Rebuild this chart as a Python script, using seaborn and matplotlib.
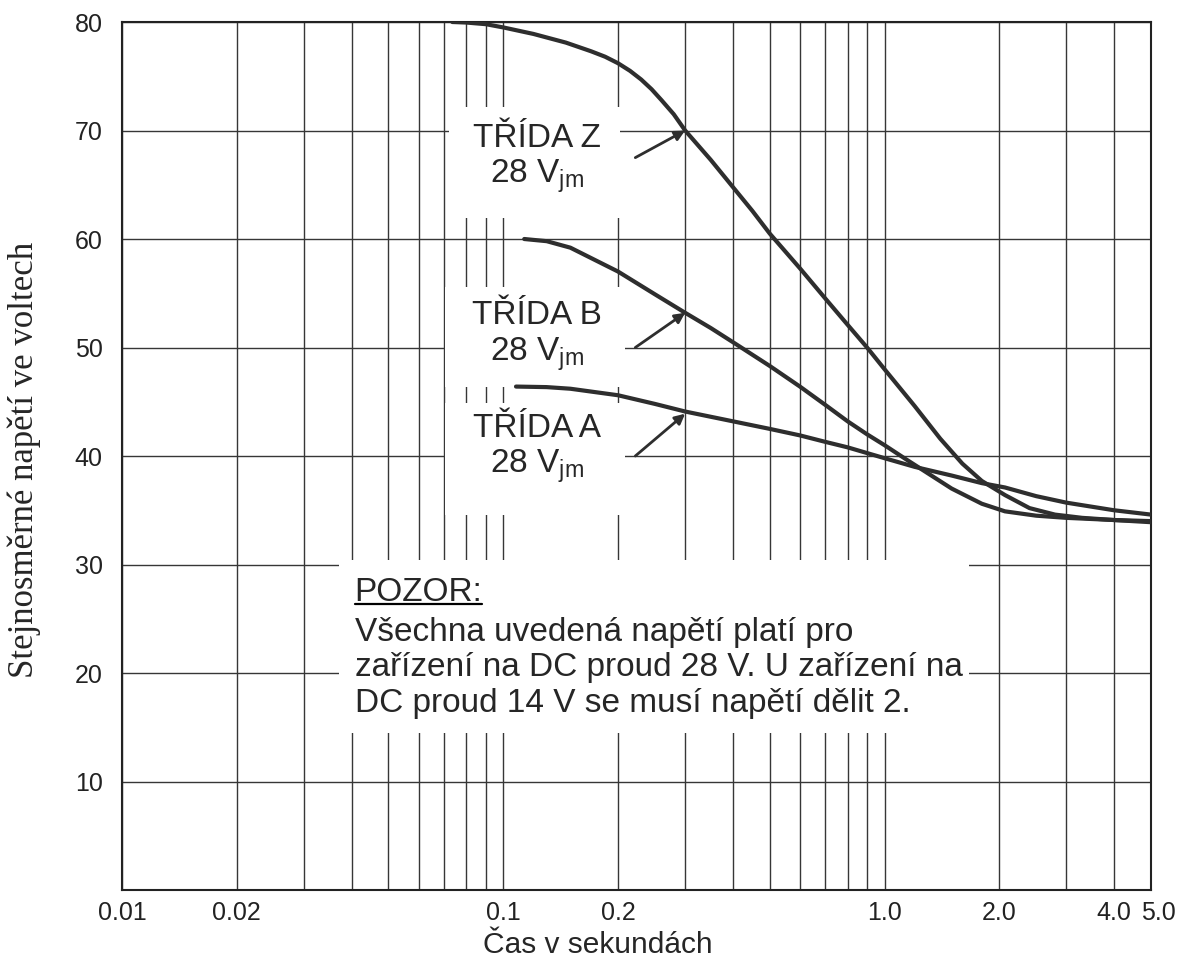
import matplotlib
matplotlib.use('Agg')
import matplotlib.pyplot as plt
import matplotlib.transforms as mtransforms
from matplotlib.patches import Rectangle
from matplotlib.ticker import FixedLocator, FixedFormatter, NullFormatter
import seaborn as sns
import pandas as pd

# hodnoty: cas v s, napeti ve V
cas_z = [0.0735, 0.08, 0.09, 0.1, 0.12, 0.146, 0.17, 0.185, 0.2, 0.215, 0.23, 0.245, 0.26, 0.28,
         0.3, 0.35, 0.4, 0.45, 0.5, 0.6, 0.7, 0.8, 0.9, 1.0, 1.2, 1.4, 1.6, 1.8, 2.07, 2.4,
         2.8, 3.3, 4.0, 5.0]
nap_z = [80, 79.95, 79.8, 79.5, 78.9, 78.1, 77.3, 76.8, 76.2, 75.5, 74.7, 73.8, 72.8, 71.5,
         70.0, 67.3, 64.8, 62.6, 60.5, 57.3, 54.5, 52.1, 50.0, 48.0, 44.6, 41.6, 39.3, 37.7,
         36.4, 35.2, 34.6, 34.3, 34.1, 33.9]

cas_b = [0.1135, 0.13, 0.15, 0.2, 0.25, 0.3, 0.35, 0.4, 0.5, 0.6, 0.7, 0.8, 0.9, 1.0,
         1.15, 1.3, 1.5, 1.8, 2.07, 2.5, 3.0, 4.0, 5.0]
nap_b = [60.0, 59.8, 59.2, 57.0, 54.9, 53.2, 51.8, 50.5, 48.3, 46.4, 44.7, 43.2, 42.0, 41.0,
         39.6, 38.4, 37.0, 35.6, 34.9, 34.5, 34.3, 34.1, 34.0]

cas_a = [0.108, 0.13, 0.15, 0.2, 0.25, 0.3, 0.4, 0.5, 0.6, 0.7, 0.8, 1.0, 1.2, 1.5,
         1.8, 2.07, 2.5, 3.0, 4.0, 5.0]
nap_a = [46.4, 46.35, 46.2, 45.6, 44.8, 44.1, 43.2, 42.5, 41.9, 41.3, 40.8, 39.8, 39.0, 38.2,
         37.5, 37.1, 36.3, 35.7, 35.0, 34.6]

x_major = [0.01, 0.02, 0.1, 0.2, 1.0, 2.0, 4.0, 5.0]
x_labels = ['0.01', '0.02', '0.1', '0.2', '1.0', '2.0', '4.0', '5.0']
x_minor = [0.03, 0.04, 0.05, 0.06, 0.07, 0.08, 0.09,
           0.3, 0.4, 0.5, 0.6, 0.7, 0.8, 0.9, 3.0]
y_ticks = [10, 20, 30, 40, 50, 60, 70, 80]

sns.set_style('white')
plt.rcParams['font.family'] = ['Liberation Sans', 'DejaVu Sans']
plt.rcParams['mathtext.fontset'] = 'custom'
plt.rcParams['mathtext.rm'] = 'Liberation Sans'

df = pd.concat([
    pd.DataFrame({'cas': cas_z, 'napeti': nap_z, 'trida': 'Z'}),
    pd.DataFrame({'cas': cas_b, 'napeti': nap_b, 'trida': 'B'}),
    pd.DataFrame({'cas': cas_a, 'napeti': nap_a, 'trida': 'A'}),
])

fig = plt.figure(figsize=(11.81, 9.65), dpi=100)
ax = fig.add_axes([0.1033, 0.0777, 0.8713, 0.8995])

line_col = '#2e2e2e'
sns.lineplot(data=df, x='cas', y='napeti', hue='trida', estimator=None,
             palette={'Z': line_col, 'B': line_col, 'A': line_col},
             linewidth=3, legend=False, ax=ax, zorder=3)

ax.set_xscale('log')
ax.set_xlim(0.01, 5.0)
ax.set_ylim(0, 80)
ax.xaxis.set_major_locator(FixedLocator(x_major))
ax.xaxis.set_major_formatter(FixedFormatter(x_labels))
ax.xaxis.set_minor_locator(FixedLocator(x_minor))
ax.xaxis.set_minor_formatter(NullFormatter())
ax.set_yticks(y_ticks)
ax.set_xlabel('')
ax.set_ylabel('')

ax.set_axisbelow(True)
ax.grid(which='both', axis='both', color='#363636', linewidth=1.0)
ax.tick_params(axis='both', which='both', length=0, labelsize=18, labelcolor='#222222')
ax.tick_params(axis='x', pad=8)
ax.tick_params(axis='y', pad=14)
for s in ax.spines.values():
    s.set_color('#222222')
    s.set_linewidth(1.5)

# 4.0 a 5.0 jsou v originale od sebe trochu odsunute
fig.canvas.draw()
last = ax.get_xticklabels()[-1]
last.set_transform(last.get_transform() + mtransforms.ScaledTranslation(7 / 100, 0, fig.dpi_scale_trans))

# bile plochy pod popisky
boxes = [(0.318, 0.774, 0.166, 0.128),
         (0.314, 0.580, 0.175, 0.115),
         (0.314, 0.432, 0.175, 0.129),
         (0.211, 0.181, 0.612, 0.199)]
for bx, by, bw, bh in boxes:
    ax.add_patch(Rectangle((bx, by), bw, bh, transform=ax.transAxes,
                           facecolor='white', edgecolor='none', zorder=1.5))

lab_fs = 24
ax.text(0.403, 0.842, 'TŘÍDA Z\n28 V$_{\\mathregular{jm}}$', transform=ax.transAxes,
        ha='center', va='center', fontsize=lab_fs, linespacing=1.15, zorder=4)
ax.text(0.403, 0.638, 'TŘÍDA B\n28 V$_{\\mathregular{jm}}$', transform=ax.transAxes,
        ha='center', va='center', fontsize=lab_fs, linespacing=1.15, zorder=4)
ax.text(0.403, 0.508, 'TŘÍDA A\n28 V$_{\\mathregular{jm}}$', transform=ax.transAxes,
        ha='center', va='center', fontsize=lab_fs, linespacing=1.15, zorder=4)

arr = dict(arrowstyle='-|>', color='#2e2e2e', lw=2, mutation_scale=15, shrinkA=0, shrinkB=0)
ax.annotate('', xy=(0.3, 70.0), xytext=(0.222, 67.5), arrowprops=arr, zorder=4)
ax.annotate('', xy=(0.3, 53.2), xytext=(0.222, 50.0), arrowprops=arr, zorder=4)
ax.annotate('', xy=(0.3, 43.9), xytext=(0.222, 40.0), arrowprops=arr, zorder=4)

pozor = ax.text(0.226, 0.343, 'POZOR:', transform=ax.transAxes, ha='left', va='center',
                fontsize=lab_fs, zorder=4)
ax.text(0.226, 0.256,
        'Všechna uvedená napětí platí pro\n'
        'zařízení na DC proud 28 V. U zařízení na\n'
        'DC proud 14 V se musí napětí dělit 2.',
        transform=ax.transAxes, ha='left', va='center', fontsize=lab_fs,
        linespacing=1.2, zorder=4)

fig.text(24 / 1181, 1 - 460 / 965, 'Stejnosměrné napětí ve voltech', rotation=90,
         ha='center', va='center', fontsize=25, family=['Liberation Serif', 'DejaVu Serif'])
fig.text(598 / 1181, 1 - 945 / 965, 'Čas v sekundách', ha='center', va='center', fontsize=21.5)

# podtrzeni slova POZOR
fig.canvas.draw()
bb = pozor.get_window_extent().transformed(ax.transAxes.inverted())
ax.plot([bb.x0, bb.x1], [bb.y0 + 0.004, bb.y0 + 0.004], transform=ax.transAxes,
        color='black', lw=1.6, zorder=4)

fig.savefig('out.png', dpi=100)
